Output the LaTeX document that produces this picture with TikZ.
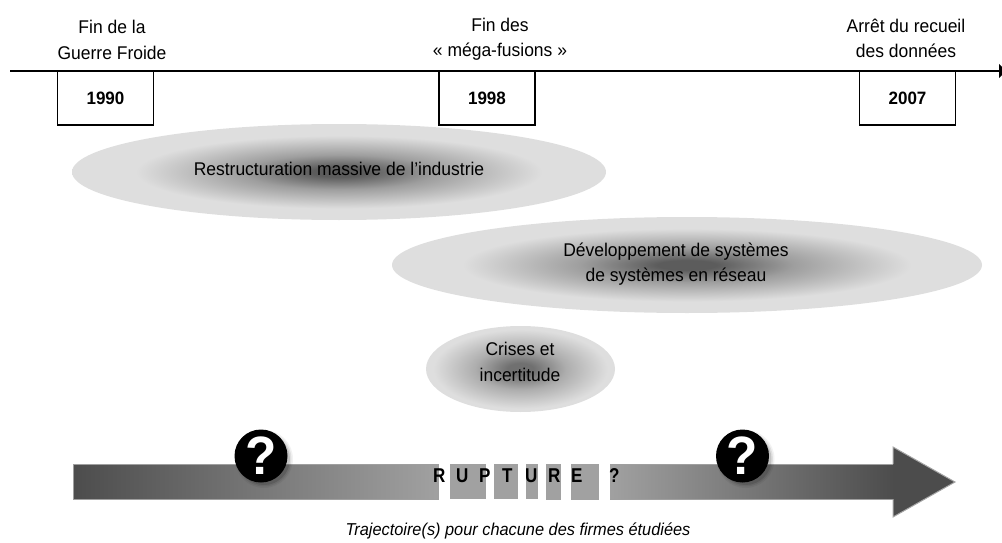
\documentclass[tikz,border=0pt]{standalone}
\usepackage{fontspec}
\setmainfont[FakeStretch=0.95]{Liberation Sans}
\newfontfamily\rupfont[FakeStretch=0.85]{Liberation Sans}
\usetikzlibrary{arrows.meta}
\definecolor{blobA}{gray}{0.36}
\definecolor{blobB}{gray}{0.62}
\definecolor{blobC}{gray}{0.87}
\definecolor{softA}{gray}{0.44}
\definecolor{softB}{gray}{0.68}
\definecolor{bandDark}{gray}{0.30}
\definecolor{bandLight}{gray}{0.63}
\pgfdeclareradialshading{darkblob}{\pgfpointorigin}{
  color(0bp)=(blobA); color(2.5bp)=(blobA); color(9bp)=(blobB); color(19bp)=(blobC); color(50bp)=(blobC)}
\pgfdeclareradialshading{softblob}{\pgfpointorigin}{
  color(0bp)=(softA); color(3.5bp)=(softA); color(12bp)=(softB); color(23bp)=(blobC); color(50bp)=(blobC)}
\tikzset{
  txt/.style={font=\fontsize{18.4}{25.5}\selectfont, align=center, text=black, inner sep=0pt},
  datebox/.style={draw=black, line width=1.6pt, fill=white, minimum width=96pt, minimum height=54pt, inner sep=0pt,
    font=\fontsize{17.9}{20}\selectfont\bfseries},
  bandseg/.style={fill=bandLight, draw=none},
  qmark/.style={circle, fill=black, minimum size=53pt, inner sep=0pt, text=white,
    font=\fontsize{54}{54}\selectfont\bfseries},
  ruplet/.style={font=\rupfont\fontsize{20}{20}\selectfont\bfseries,inner sep=0pt,anchor=west},
}
\newcommand{\rl}[1]{\makebox[23pt][l]{#1}}
\begin{document}
\begin{tikzpicture}[x=1pt,y=-1pt]
\useasboundingbox (0,0) rectangle (1002,543);
% time axis
\coordinate (axisL) at (10,71);
\coordinate (axisR) at (1006,71);
\draw[line width=2pt,-{Triangle[length=7pt,width=14pt]}] (axisL) -- (axisR);
% date boxes
\node[datebox] (d90) at (105.5,98) {1990};
\node[datebox] (d98) at (487,98) {1998};
\node[datebox] (d07) at (907.5,98) {2007};
\node[txt] (t90) at (112,40) {Fin de la\\Guerre Froide};
\node[txt] (t98) at (500,39) {Fin des\\« méga-fusions »};
\node[txt] (t07) at (906,38.5) {Arrêt du recueil\\des données};
% blobs
\shade[shading=darkblob] (339,172) ellipse [x radius=267, y radius=48];
\shade[shading=darkblob] (687,265) ellipse [x radius=295, y radius=48];
\shade[shading=softblob] (520.5,369) ellipse [x radius=94.5, y radius=43];
\node[txt] (b1) at (339,169) {Restructuration massive de l’industrie};
\node[txt] (b2) at (676,264) {Développement de systèmes\\de systèmes en réseau};
\node[txt] (b3) at (520,362) {Crises et\\incertitude};
% band
\shade[left color=bandDark,right color=bandLight,draw=gray!75,line width=1pt] (73,464) rectangle (438,499);
\fill[bandseg] (450,464) rectangle (486,499);
\fill[bandseg] (494,464) rectangle (518,499);
\fill[bandseg] (526,464) rectangle (538,499);
\fill[bandseg] (546,464) rectangle (561,500);
\fill[bandseg] (571,464) rectangle (599,500);
\shade[left color=bandLight,right color=bandDark,draw=none] (610,464) rectangle (893,499);
\fill[bandDark,draw=gray!70,line width=1pt] (893,464) -- (893,447) -- (955,482) -- (893,517) -- (893,499);
\draw[gray!75,line width=1pt] (610,464) -- (893,464) (610,499) -- (893,499);
\node[ruplet] (rup) at (433,476) {\rl{R}\rl{U}\rl{P}\rl{T}\rl{U}\rl{R}\makebox[38pt][l]{E}?};
% question marks
\foreach \r/\o in {26/0.12,27.5/0.08,29/0.05}{
  \fill[black,opacity=\o] (264,459) circle (\r);
  \fill[black,opacity=\o] (745.5,459) circle (\r);
}
\node[qmark] (q1) at (261,456) {?};
\node[qmark] (q2) at (742.5,456) {?};
\node[txt,font=\fontsize{17.2}{20}\selectfont\itshape] (cap) at (518,531) {Trajectoire(s) pour chacune des firmes étudiées};
\end{tikzpicture}
\end{document}
